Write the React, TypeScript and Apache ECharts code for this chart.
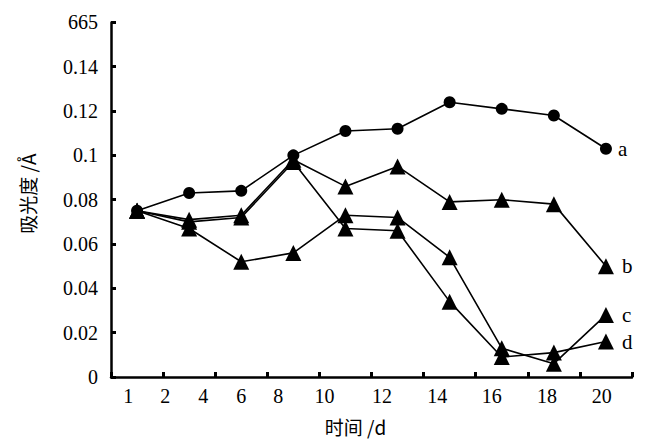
import React, { useEffect, useRef } from "react";
import * as echarts from "echarts";

// sampling points along the time axis (10 measurements)
const samplePoints = ["t1", "t2", "t3", "t4", "t5", "t6", "t7", "t8", "t9", "t10"];
// absorbance values (Å) per series
const seriesA = [0.075, 0.083, 0.084, 0.1, 0.111, 0.112, 0.124, 0.121, 0.118, 0.103];
const seriesB = [0.075, 0.071, 0.073, 0.098, 0.086, 0.095, 0.079, 0.08, 0.078, 0.05];
const seriesC = [0.075, 0.067, 0.052, 0.056, 0.073, 0.072, 0.054, 0.013, 0.006, 0.028];
const seriesD = [0.075, 0.07, 0.072, 0.097, 0.067, 0.066, 0.034, 0.009, 0.011, 0.016];
const seriesNames = ["a", "b", "c", "d"];
// printed tick labels of the time axis and where they sit (in sampling-slot units)
const xTickLabels = ["1", "2", "4", "6", "8", "10", "12", "14", "16", "18", "20"];
const xTickLabelSlots = [0.33, 1.04, 1.77, 2.5, 3.21, 4.1, 5.2, 6.26, 7.31, 8.37, 9.42];
const yTopLabel = "665";

const serif = "Liberation Serif";
const cjk = "Noto Sans CJK SC";

export default function App() {
  const ref = useRef<HTMLDivElement>(null);
  useEffect(() => {
    if (!ref.current) return;
    const chart = echarts.init(ref.current, undefined, { renderer: "svg" });
    const mk = (name: string, data: number[], symbol: string, size: number, dist: number) => ({
      name,
      type: "line",
      data,
      xAxisIndex: 0,
      yAxisIndex: 0,
      symbol,
      symbolSize: size,
      lineStyle: { color: "#000", width: 1.6 },
      itemStyle: { color: "#000" },
      endLabel: {
        show: true,
        formatter: name,
        distance: dist,
        color: "#000",
        fontSize: 21,
        fontFamily: serif,
      },
    });
    chart.setOption({
      animation: false,
      backgroundColor: "#fff",
      grid: { left: 111, right: 23, top: 22.4, bottom: 61 },
      xAxis: [
        {
          type: "category",
          data: samplePoints,
          boundaryGap: true,
          name: "时间 /d",
          nameLocation: "middle",
          nameGap: 40,
          nameTextStyle: { fontFamily: cjk, fontSize: 19, color: "#000", padding: [0, 32, 0, 0] },
          axisLine: { lineStyle: { color: "#000", width: 2.5 } },
          axisTick: { show: true, inside: true, length: 5, lineStyle: { color: "#000", width: 3 } },
          axisLabel: { show: false },
          splitLine: { show: false },
        },
        {
          type: "value",
          position: "bottom",
          min: 0,
          max: 10,
          axisLine: { show: false },
          axisTick: { show: false },
          splitLine: { show: false },
          axisLabel: {
            show: true,
            customValues: xTickLabelSlots,
            formatter: (v: number) => {
              const i = xTickLabelSlots.findIndex((p) => Math.abs(p - v) < 1e-6);
              return i >= 0 ? xTickLabels[i] : "";
            },
            margin: 9,
            color: "#000",
            fontSize: 20,
            fontFamily: serif,
          },
        },
      ],
      yAxis: {
        type: "value",
        min: 0,
        max: 0.16,
        interval: 0.02,
        name: "吸光度 /Å",
        nameLocation: "middle",
        nameRotate: 90,
        nameGap: 74,
        nameTextStyle: { fontFamily: cjk, fontSize: 19, color: "#000", padding: [0, 0, 0, 12] },
        axisLine: { show: true, lineStyle: { color: "#000", width: 2.5 } },
        axisTick: { show: true, inside: true, length: 5, lineStyle: { color: "#000", width: 3 } },
        splitLine: { show: false },
        axisLabel: {
          margin: 13,
          color: "#000",
          fontSize: 20,
          fontFamily: serif,
          formatter: (v: number) => {
            if (Math.abs(v - 0.16) < 1e-9) return yTopLabel;
            if (v === 0) return "0";
            return String(Number(v.toFixed(2)));
          },
        },
      },
      series: [
        mk(seriesNames[0], seriesA, "circle", 12, 12),
        mk(seriesNames[1], seriesB, "triangle", 16, 16),
        mk(seriesNames[2], seriesC, "triangle", 16, 16),
        mk(seriesNames[3], seriesD, "triangle", 16, 16),
      ],
    });
    return () => chart.dispose();
  }, []);
  return (
    <div
      ref={ref}
      style={{ position: "fixed", left: 0, top: 0, width: 655, height: 441, background: "#fff" }}
    />
  );
}
